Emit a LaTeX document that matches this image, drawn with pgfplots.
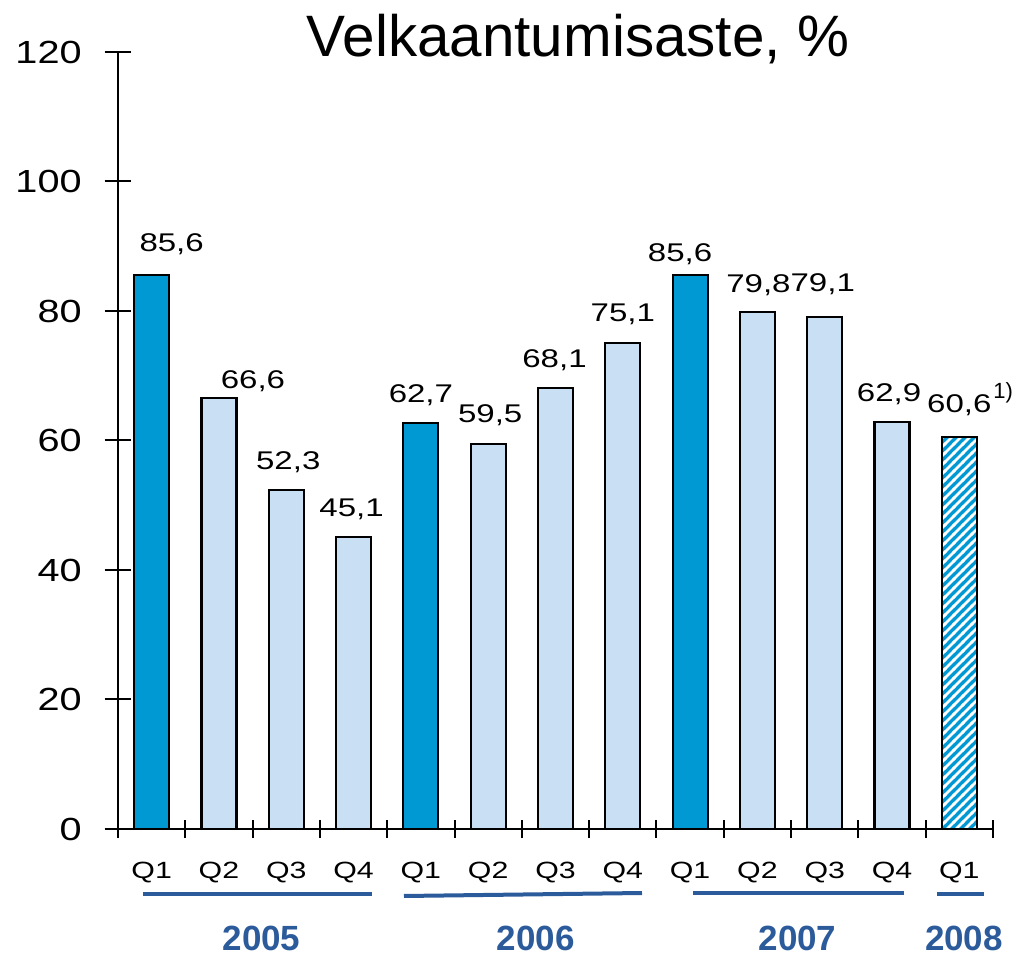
\documentclass[border=0pt]{standalone}
\usepackage{pgfplots}
\pgfplotsset{compat=1.18}
\usepackage{fontspec}
\setmainfont{Liberation Sans}
\newfontfamily\yfont[FakeStretch=1.24]{Liberation Sans}
\newfontfamily\wfont[FakeStretch=1.29]{Liberation Sans}
\usetikzlibrary{patterns}
\definecolor{dblue}{HTML}{0099D4}
\definecolor{lblue}{HTML}{C9DFF3}
\definecolor{yblue}{HTML}{2C5B9B}

\pgfdeclarepatternformonly{bigNE}{\pgfqpoint{-2pt}{-2pt}}{\pgfqpoint{11pt}{11pt}}{\pgfqpoint{9pt}{9pt}}{%
  \pgfsetlinewidth{2.6pt}%
  \pgfpathmoveto{\pgfqpoint{-1pt}{-1pt}}%
  \pgfpathlineto{\pgfqpoint{10pt}{10pt}}%
  \pgfusepath{stroke}}

\pgfplotstableread{
x y dx dy
0 85.6 20 23
4 62.7 0 21
8 85.6 -10 13
}\darkdata
\pgfplotstableread{
x y dx dy
1 66.6 34 9
2 52.3 2 21
3 45.1 -2 20
5 59.5 2 21
6 68.1 -1 21
7 75.1 0 21
9 79.8 1 20
10 79.1 -2 25
11 62.9 -3 20
}\lightdata
\pgfplotstableread{
x y dx dy
12 60.6 0 24
}\hatchdata

\begin{document}
\begin{tikzpicture}
\begin{axis}[
  width=875pt, height=777pt, scale only axis,
  xmin=-0.5, xmax=12.5, ymin=0, ymax=120,
  axis x line*=bottom, axis y line*=left,
  axis line style={line width=2pt, -},
  clip=false,
  tick align=center,
  xtick={-0.5,0.5,...,12.5},
  xticklabels={Q1,Q2,Q3,Q4,Q1,Q2,Q3,Q4,Q1,Q2,Q3,Q4,Q1,{}},
  ytick={0,20,...,120},
  xtick style={line width=2pt, black, /pgfplots/major tick length=18pt},
  ytick style={line width=2pt, black, /pgfplots/major tick length=27pt},
  /pgf/number format/assume math mode=true,
  yticklabel style={font=\yfont\fontsize{32}{38}\selectfont, anchor=east, inner sep=0pt, xshift=-34pt},
  xticklabel style={font=\wfont\fontsize{23.5}{28}\selectfont, anchor=north, inner sep=0pt, xshift=33.65pt, yshift=-31pt},
  barstyle/.style={ybar, bar width=35pt, bar shift=0pt, draw=black, line width=2.2pt,
    point meta=y, nodes near coords,
    visualization depends on={\thisrow{dx}\as\dx},
    visualization depends on={\thisrow{dy}\as\dy},
    nodes near coords style={anchor=base, font=\wfont\fontsize{25.6}{30}\selectfont, black,
      xshift=\dx pt, yshift=\dy pt,
      /pgf/number format/.cd, use comma, fixed, fixed zerofill, precision=1}},
]
\addplot[barstyle, fill=dblue] table[x=x, y=y] {\darkdata};
\addplot[barstyle, fill=lblue] table[x=x, y=y] {\lightdata};
\addplot[barstyle, preaction={fill=dblue},
  pattern=bigNE, pattern color=white,
  nodes near coords={\pgfmathprintnumber{\pgfplotspointmeta}\rlap{\hspace{2pt}\raisebox{14pt}{\normalfont\fontsize{22}{24}\selectfont 1)}}}]
  table[x=x, y=y] {\hatchdata};

\node[anchor=base, font=\fontsize{58.4}{70}\selectfont] at (rel axis cs:0.5257,0.99357) {Velkaantumisaste, \%};

\draw[yblue, line width=4pt] ([yshift=-65pt]axis cs:-0.133,0) -- ([yshift=-65pt]axis cs:3.269,0);
\draw[yblue, line width=4pt] ([yshift=-67pt]axis cs:3.749,0) -- ([yshift=-64pt]axis cs:7.285,0);
\draw[yblue, line width=4pt] ([yshift=-64pt]axis cs:8.043,0) -- ([yshift=-64pt]axis cs:11.177,0);
\draw[yblue, line width=4pt] ([yshift=-65pt]axis cs:11.668,0) -- ([yshift=-65pt]axis cs:12.366,0);

\node[yblue, inner sep=0pt, font=\bfseries\fontsize{35}{42}\selectfont, anchor=base] at ([yshift=-121pt]axis cs:1.632,0) {2005};
\node[yblue, inner sep=0pt, font=\bfseries\fontsize{35}{42}\selectfont, anchor=base] at ([yshift=-121pt]axis cs:5.706,0) {2006};
\node[yblue, inner sep=0pt, font=\bfseries\fontsize{35}{42}\selectfont, anchor=base] at ([yshift=-121pt]axis cs:9.595,0) {2007};
\node[yblue, inner sep=0pt, font=\bfseries\fontsize{35}{42}\selectfont, anchor=base] at ([yshift=-121pt]axis cs:12.069,0) {2008};

\coordinate (bbsw) at (rel axis cs:-0.13486,-0.16474);
\coordinate (bbne) at (rel axis cs:1.024,1.06692);
\end{axis}
\pgfresetboundingbox
\useasboundingbox (bbsw) rectangle (bbne);
\end{tikzpicture}
\end{document}
